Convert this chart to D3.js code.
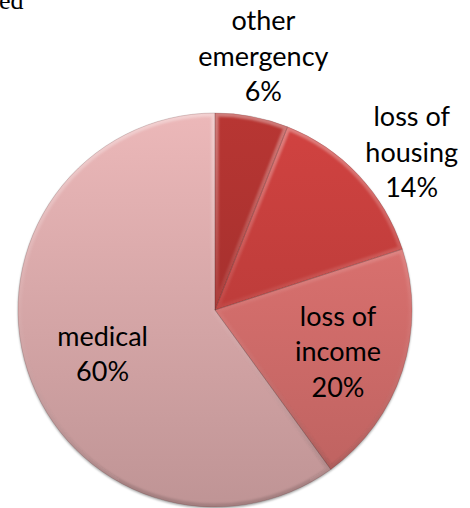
<!DOCTYPE html>
<html>
<head>
<meta charset="utf-8">
<script src="https://cdn.jsdelivr.net/npm/d3@7"></script>
<style>
  html, body { margin: 0; padding: 0; background: #fff; }
  svg { display: block; }
</style>
</head>
<body>
<svg id="chart"></svg>
<script>
// slice data, clockwise from 12 o'clock
const categories = ["other emergency", "loss of housing", "loss of income", "medical"];
const labelLines = [["other", "emergency"], ["loss of", "housing"], ["loss of", "income"], ["medical"]];
const values = [6, 14, 20, 60];
const sliceColors = ["#a8312f", "#c03d3b", "#d46e6c", "#d8a8a9"];

const width = 470, height = 508;
const cx = 215, cy = 310, R = 197;

const svg = d3.select("#chart")
    .attr("width", width)
    .attr("height", height);

// tail of the cut-off title
svg.append("text")
    .attr("x", -1)
    .attr("y", 9)
    .attr("font-family", "Liberation Serif")
    .attr("font-size", 26)
    .text("ed");

const defs = svg.append("defs");

const pie = d3.pie().sort(null).value(d => d);
const arcs = pie(values);
const arc = d3.arc().innerRadius(0).outerRadius(R);

// vertical shading per slice, lighter on top (coords are relative to pie centre)
sliceColors.forEach((c, i) => {
    const g = defs.append("linearGradient")
        .attr("id", "fill" + i)
        .attr("gradientUnits", "userSpaceOnUse")
        .attr("x1", 0).attr("y1", -R)
        .attr("x2", 0).attr("y2", R);
    g.append("stop").attr("offset", 0).attr("stop-color", d3.color(c).brighter(0.25).formatHex());
    g.append("stop").attr("offset", 1).attr("stop-color", d3.color(c).darker(0.35).formatHex());
});

// bevel light: white at top, dark at bottom
const bev = defs.append("linearGradient")
    .attr("id", "bevel")
    .attr("gradientUnits", "userSpaceOnUse")
    .attr("x1", 0).attr("y1", -R)
    .attr("x2", 0).attr("y2", R);
bev.append("stop").attr("offset", 0).attr("stop-color", "#fff").attr("stop-opacity", 0.35);
bev.append("stop").attr("offset", 0.5).attr("stop-color", "#fff").attr("stop-opacity", 0.05);
bev.append("stop").attr("offset", 1).attr("stop-color", "#000").attr("stop-opacity", 0.15);

const blur = defs.append("filter").attr("id", "soft")
    .attr("x", "-10%").attr("y", "-10%").attr("width", "120%").attr("height", "120%");
blur.append("feGaussianBlur").attr("stdDeviation", 1.2);

arcs.forEach((a, i) => {
    defs.append("clipPath").attr("id", "clip" + i)
        .append("path").attr("d", arc(a));
});

const g = svg.append("g").attr("transform", `translate(${cx},${cy})`);

// soft outer shadow
g.append("circle")
    .attr("cy", 1.5)
    .attr("r", R)
    .attr("fill", "#000")
    .attr("fill-opacity", 0.35)
    .attr("filter", "url(#soft)");

g.selectAll("path.slice")
    .data(arcs)
    .enter()
    .append("path")
    .attr("class", "slice")
    .attr("d", arc)
    .attr("fill", (d, i) => `url(#fill${i})`);

g.selectAll("path.bevel")
    .data(arcs)
    .enter()
    .append("path")
    .attr("class", "bevel")
    .attr("d", arc)
    .attr("fill", "none")
    .attr("stroke", "url(#bevel)")
    .attr("stroke-width", 7)
    .attr("filter", "url(#soft)")
    .attr("clip-path", (d, i) => `url(#clip${i})`);

g.selectAll("path.edge")
    .data(arcs)
    .enter()
    .append("path")
    .attr("class", "edge")
    .attr("d", arc)
    .attr("fill", "none")
    .attr("stroke", "#3a0a0a")
    .attr("stroke-opacity", 0.2)
    .attr("stroke-width", 0.8);

// label radius as a share of R; outer labels sit outside the pie
const labelR = [1.31, 1.3, 0.63, 0.6];
const labelShift = [[0, 0], [10, 18], [5, 4], [0, 8]];
const lineH = 35.5;

arcs.forEach((a, i) => {
    const la = d3.arc().innerRadius(R * labelR[i]).outerRadius(R * labelR[i]);
    const [x, y] = la.centroid(a);
    const lines = labelLines[i].concat([values[i] + "%"]);
    const t = g.append("text")
        .attr("font-family", "Lato")
        .attr("font-size", 27)
        .attr("fill", "#000")
        .attr("text-anchor", "middle");
    const y0 = y + labelShift[i][1] - (lines.length - 1) * lineH / 2 + 9;
    lines.forEach((s, k) => {
        t.append("tspan")
            .attr("x", x + labelShift[i][0])
            .attr("y", y0 + k * lineH)
            .text(s);
    });
});
</script>
</body>
</html>
